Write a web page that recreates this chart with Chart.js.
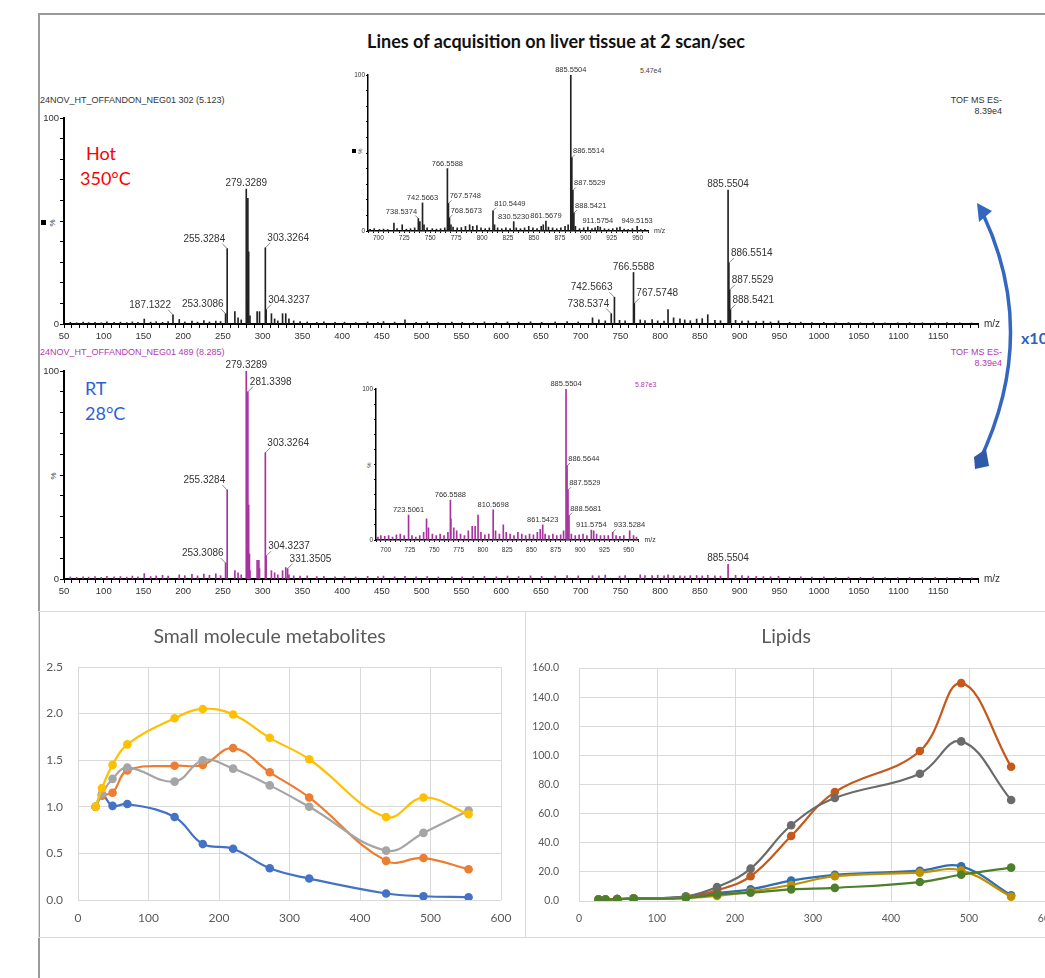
<!DOCTYPE html>
<html>
<head>
<meta charset="utf-8">
<title>Lines of acquisition on liver tissue at 2 scan/sec</title>
<script src="https://cdn.jsdelivr.net/npm/chart.js@4.4.1/dist/chart.umd.min.js"></script>
<style>
  html, body { margin: 0; padding: 0; background: #fff; }
  body { width: 1045px; height: 978px; overflow: hidden; position: relative;
         font-family: "Liberation Sans", Arial, sans-serif; }
  .abs { position: absolute; white-space: nowrap; line-height: 1; }
  canvas { position: absolute; }
  .hdr { font-size: 9px; color: #333; }
  .mag { color: #b23bb2; }
  .temp { font-family: Lato, sans-serif; font-size: 18px; line-height: 18px; }
  .pct { font-size: 8px; color: #333; transform: rotate(-90deg); }
  .box { border: 1px solid #d9d9d9; }
</style>
</head>
<body>

<!-- moldura externa -->
<div class="abs" style="left:38px;top:13px;width:1020px;height:980px;border-left:2px solid #9a9a9a;border-top:2px solid #9a9a9a"></div>

<div class="abs" style="left:156px;top:30px;width:800px;text-align:center;font:bold 18px Lato, sans-serif;color:#111">Lines of acquisition on liver tissue at 2 scan/sec</div>

<!-- cabecalhos dos espectros -->
<div class="abs hdr" style="left:40px;top:96px">24NOV_HT_OFFANDON_NEG01 302 (5.123)</div>
<div class="abs hdr" style="right:43px;top:96px;text-align:right">TOF MS ES-<br><span style="line-height:13px">8.39e4</span></div>
<div class="abs hdr mag" style="left:40px;top:348px">24NOV_HT_OFFANDON_NEG01 489 (8.285)</div>
<div class="abs hdr mag" style="right:43px;top:348px;text-align:right">TOF MS ES-<br><span style="line-height:13px">8.39e4</span></div>

<div class="abs temp" style="left:86px;top:144px;color:#f00">Hot</div>
<div class="abs temp" style="left:80px;top:169px;color:#f00">350°C</div>
<div class="abs temp" style="left:85px;top:379px;color:#2e5fd8">RT</div>
<div class="abs temp" style="left:85px;top:404px;color:#2e5fd8">28°C</div>

<!-- rotulos de % nos eixos -->
<div class="abs" style="left:41px;top:220px;width:5px;height:5px;background:#000"></div>
<div class="abs pct" style="left:49px;top:219px">%</div>
<div class="abs pct" style="left:50px;top:472px">%</div>
<div class="abs" style="left:352px;top:149px;width:4px;height:4px;background:#000"></div>
<div class="abs pct" style="left:357px;top:148px;font-size:6px">%</div>
<div class="abs pct" style="left:366px;top:462px;font-size:6px">%</div>
<div class="abs" style="left:640px;top:67px;font-size:7px;color:#444">5.47e4</div>
<div class="abs mag" style="left:635px;top:381px;font-size:7px">5.87e3</div>

<!-- seta x10 -->
<svg class="abs" style="left:0;top:0" width="1045" height="978">
  <path d="M983 214 Q1040 335 979 462" stroke="#3567c0" stroke-width="3.5" fill="none"/>
  <polygon points="977,203 992,211 979,222" fill="#3567c0"/>
  <polygon points="974,457 986,449 989,466 975,469" fill="#2f5aa8"/>
</svg>
<div class="abs" style="left:1021px;top:328px;font:bold 16px Lato, sans-serif;color:#2f5fc0">x10</div>

<!-- caixas dos graficos Excel -->
<div class="abs box" style="left:38px;top:611px;width:486px;height:325px"></div>
<div class="abs box" style="left:525px;top:611px;width:540px;height:325px"></div>

<canvas id="hot-main" width="1010" height="242" style="left:14px;top:100px"></canvas>
<canvas id="rt-main" width="1010" height="242" style="left:14px;top:355px"></canvas>
<canvas id="hot-inset" width="330" height="183" style="left:340px;top:62px"></canvas>
<canvas id="rt-inset" width="320" height="179" style="left:347px;top:375px"></canvas>
<canvas id="small-mol" width="487" height="326" style="left:38px;top:611px"></canvas>
<canvas id="lipids" width="546" height="326" style="left:525px;top:611px"></canvas>

<script>
/* global Chart */
// ---- Espectro principal (Hot 350C / RT 28C): picos maiores, em % ----
const HOT_MZ  = [187.1322, 253.3086, 255.3284, 279.3289, 280.33, 281.34, 282.34, 303.3264, 304.3237,
                 738.5374, 742.5663, 766.5588, 767.5748, 885.5504, 886.5514, 887.5529, 888.5421];
const HOT_PCT = [4.5, 5, 36.6, 65.5, 11, 61, 35, 37, 7,
                 5, 13, 25, 10, 65, 29.6, 16.5, 7];
const HOT_TAGS = [187.1322, 253.3086, 255.3284, 279.3289, 303.3264, 304.3237,
                  738.5374, 742.5663, 766.5588, 767.5748, 885.5504, 886.5514, 887.5529, 888.5421];
const HOT_TAG_SIDES = ['r', 'r', 'r', 'c', 'l', 'l', 'r', 'r', 'c', 'l', 'c', 'l', 'l', 'l'];

const RT_MZ  = [253.3086, 255.3284, 279.3289, 280.33, 281.3398, 282.34, 283.34, 295.2, 303.3264, 304.3237, 331.3505, 885.5504];
const RT_PCT = [7.7, 42.8, 100, 15, 90, 35.6, 12, 9, 60.7, 11, 5, 7];
const RT_TAGS = [253.3086, 255.3284, 279.3289, 281.3398, 303.3264, 304.3237, 331.3505, 885.5504];
const RT_TAG_SIDES = ['r', 'r', 'c', 'l', 'l', 'l', 'l', 'c'];

// picos pequenos (ruido), mesmas posicoes nos dois espectros
const MAIN_NOISE_MZ = [58, 66, 74, 81, 89, 97, 104, 113, 121, 129,
  136, 143, 151, 159, 166, 174, 181, 195, 202, 211,
  218, 226, 233, 241, 247, 265, 269, 273, 284, 293,
  296, 311, 315, 319, 325, 329, 333, 339, 347, 356,
  368, 377, 391, 403, 417, 432, 445, 452, 466, 479,
  493, 507, 521, 538, 551, 565, 579, 594, 608, 622,
  637, 651, 668, 683, 697, 715, 723, 731, 749, 756,
  775, 781, 790, 797, 805, 810, 817, 825, 831, 838,
  846, 853, 860, 869, 876, 895, 903, 911, 921, 930,
  939, 949, 963, 977, 991, 1006, 1021, 1037, 1052, 1068,
  1083, 1099, 1114, 1130, 1146, 1161, 1177, 1192];
const HOT_NOISE_PCT = [0.8, 0.6, 0.9, 0.7, 0.8, 0.6, 1.0, 0.8, 0.9, 0.7,
  1.0, 0.8, 2.4, 0.9, 1.1, 0.8, 1.2, 2.2, 1.0, 1.4,
  0.9, 1.6, 1.0, 1.4, 1.2, 6.0, 3.0, 2.0, 4.0, 6.0,
  6.0, 5.0, 2.5, 1.5, 5.0, 5.0, 2.5, 1.5, 1.2, 1.0,
  0.8, 1.0, 0.8, 0.9, 0.7, 1.0, 0.8, 1.2, 0.9, 2.0,
  0.8, 1.0, 0.7, 0.9, 0.8, 0.7, 1.0, 0.8, 1.0, 0.9,
  1.1, 0.8, 1.0, 1.2, 1.0, 3.0, 2.0, 1.5, 1.8, 1.5,
  2.0, 1.6, 2.2, 1.5, 1.4, 7.0, 3.0, 2.5, 2.0, 1.6,
  2.4, 2.6, 4.5, 1.8, 1.6, 1.8, 1.4, 1.5, 1.2, 1.4,
  1.0, 1.5, 0.8, 0.9, 0.7, 0.8, 0.6, 0.7, 0.6, 0.7,
  0.6, 0.6, 0.7, 0.6, 0.6, 0.7, 0.6, 0.5];
const RT_NOISE_PCT = [1.0, 0.8, 1.1, 0.9, 1.2, 0.8, 1.3, 1.0, 1.2, 0.9,
  1.4, 1.1, 2.6, 1.2, 1.5, 1.8, 1.4, 2.0, 1.6, 2.2,
  1.5, 2.4, 1.8, 2.5, 1.6, 4.0, 3.0, 2.0, 4.0, 9.0,
  5.0, 4.0, 3.0, 2.0, 4.0, 5.5, 2.0, 1.5, 1.4, 1.5,
  1.2, 1.3, 1.1, 1.2, 1.0, 1.3, 1.2, 1.4, 1.1, 1.3,
  1.0, 1.2, 1.0, 1.1, 1.0, 1.2, 1.3, 1.1, 1.4, 1.2,
  1.5, 1.3, 1.4, 1.6, 1.5, 1.6, 1.5, 1.9, 1.4, 1.6,
  2.0, 1.7, 1.6, 1.8, 1.5, 2.0, 1.6, 1.5, 1.4, 1.6,
  1.7, 1.5, 1.8, 1.5, 1.4, 1.8, 1.6, 1.4, 1.3, 1.2,
  1.1, 1.3, 1.0, 1.1, 0.9, 1.0, 0.8, 0.9, 0.8, 0.9,
  0.8, 0.7, 0.8, 0.7, 0.8, 0.7, 0.8, 0.6];

// ---- Insets (zoom 690-960 m/z) ----
const HOT_IN_MZ  = [738.5374, 742.5663, 766.5588, 767.5748, 768.5673, 810.5449, 830.5230, 861.5679,
                    885.5504, 886.5514, 887.5529, 888.5421, 911.5754, 949.5153];
const HOT_IN_PCT = [8, 18, 40, 17.7, 8.5, 13, 6, 6.4, 100, 47, 26, 11.5, 3, 3];
const HOT_IN_SIDES = ['r', 'c', 'c', 'l', 'l', 'l', 'c', 'c', 'c', 'l', 'l', 'l', 'c', 'c'];
const HOT_IN_NOISE_MZ = [692, 696, 701, 705, 709, 715, 718, 723, 727, 731, 735, 740, 744, 747, 752, 756, 760, 764,
  770, 772, 776, 780, 784, 788, 791, 795, 799, 803, 807, 812, 815, 819, 823, 827, 833, 837, 841, 845, 849,
  853, 857, 859, 864, 868, 872, 876, 880, 883, 890, 894, 898, 902, 906, 909, 914, 918, 922, 926, 930,
  933, 937, 941, 945, 953, 957];
const HOT_IN_NOISE_PCT = [1, 1.5, 1, 1.2, 1, 5, 1.5, 4, 1.2, 1.5, 2, 6, 4, 2, 1.5, 1.2, 1.5, 2,
  4, 2.5, 2, 2.2, 3, 4, 3, 3.5, 2, 1.5, 2, 4, 2, 1.5, 2, 1.5, 2, 1.5, 2, 3, 2,
  1.5, 3, 4, 2.5, 2, 1.5, 2, 3, 4, 3, 1.5, 2, 2.5, 1.5, 2, 2.5, 1.5, 1.2, 1.5, 2,
  2.5, 1.2, 1, 1.5, 1, 1];

const RT_IN_MZ  = [723.5061, 766.5588, 810.5698, 861.5423, 885.5504, 886.5644, 887.5529, 888.5681, 911.5754, 933.5284];
const RT_IN_PCT = [16.5, 26.5, 20, 10, 100, 49, 33, 16, 6.6, 5];
const RT_IN_SIDES = ['c', 'c', 'c', 'c', 'c', 'l', 'l', 'l', 'c', 'l'];
const RT_IN_NOISE_MZ = [692, 695, 699, 703, 707, 711, 715, 719, 727, 731, 735, 739, 742, 744, 748, 752, 756, 760,
  764, 767, 770, 773, 777, 781, 785, 789, 792, 795, 798, 802, 806, 813, 817, 821, 824, 828, 832, 836, 840,
  844, 848, 852, 856, 859, 864, 868, 872, 876, 880, 883, 891, 895, 899, 903, 907, 914, 917, 921, 925, 929,
  937, 941, 945, 951, 955, 958];
const RT_IN_NOISE_PCT = [2, 3, 2.5, 3, 2, 3.5, 4, 3, 3, 2, 3, 5, 14, 8, 4, 3, 4, 3,
  5, 14, 8, 6, 4, 3, 6, 9, 9, 16.5, 5, 3.5, 4, 6, 4, 10, 5, 4, 3, 5, 4,
  3, 4, 3.5, 5, 7, 4, 3, 4, 3, 3.5, 6, 4, 3, 3.5, 4, 3, 6, 4, 3, 3, 3,
  3, 2.5, 3, 6, 3, 2];

// ---- Graficos Excel de baixo ----
const TIME_X    = [25, 34, 49, 70, 137, 177, 220, 272, 328, 437, 490, 554];
const SM_BLUE   = [1.00, 1.13, 1.01, 1.03, 0.89, 0.60, 0.55, 0.34, 0.23, 0.07, 0.04, 0.03];
const SM_ORANGE = [1.00, 1.12, 1.15, 1.39, 1.44, 1.45, 1.63, 1.37, 1.10, 0.42, 0.45, 0.33];
const SM_GRAY   = [1.00, 1.14, 1.30, 1.42, 1.27, 1.50, 1.41, 1.23, 1.00, 0.53, 0.72, 0.96];
const SM_YELLOW = [1.00, 1.20, 1.45, 1.67, 1.95, 2.05, 1.99, 1.74, 1.51, 0.89, 1.10, 0.92];

const LIP_BLUE   = [1.0, 1.0, 1.3, 1.8, 2.5, 5.5, 8.0, 14.0, 18.0, 20.8, 23.8, 4.0];
const LIP_ORANGE = [1.0, 1.0, 1.3, 1.6, 2.7, 7.3, 17.0, 44.6, 74.8, 103.0, 149.6, 92.2];
const LIP_GRAY   = [1.0, 1.0, 1.3, 1.8, 3.2, 9.6, 22.2, 52.0, 70.7, 87.4, 109.6, 69.4];
const LIP_GOLD   = [1.0, 1.0, 1.2, 1.6, 2.2, 3.5, 6.5, 11.0, 17.0, 19.5, 21.0, 3.0];
const LIP_GREEN  = [1.0, 1.0, 1.3, 1.6, 2.0, 4.5, 5.7, 8.0, 9.0, 13.0, 18.0, 22.9];

// rotulos dos picos + "m/z" no fim do eixo
function tagPlugin(cfg) {
  return {
    id: 'peakTags',
    afterDatasetsDraw(chart) {
      const { ctx, chartArea, scales: { x, y } } = chart;
      ctx.save();
      ctx.font = cfg.tagFont;
      ctx.fillStyle = '#333';
      ctx.strokeStyle = '#555';
      ctx.lineWidth = 0.7;
      ctx.textBaseline = 'alphabetic';
      cfg.tags.forEach((m, i) => {
        const k = cfg.mz.indexOf(m);
        if (k < 0) return;
        const px = x.getPixelForValue(m);
        const py = y.getPixelForValue(cfg.pct[k]);
        const side = cfg.sides[i];
        if (side === 'c') {
          ctx.textAlign = 'center';
          ctx.fillText(m.toFixed(4), px, py - 3);
        } else {
          const d = side === 'l' ? 1 : -1;
          ctx.beginPath();
          ctx.moveTo(px, py);
          ctx.lineTo(px + d * cfg.lead, py - cfg.lead);
          ctx.stroke();
          ctx.textAlign = side === 'l' ? 'left' : 'right';
          ctx.fillText(m.toFixed(4), px + d * cfg.lead * 0.4, py - cfg.lead - 2);
        }
      });
      ctx.font = cfg.unitFont;
      ctx.textAlign = 'left';
      ctx.textBaseline = 'middle';
      ctx.fillText('m/z', chartArea.right + 6, chartArea.bottom);
      ctx.restore();
    }
  };
}

function spectrum(id, cfg) {
  const pts = cfg.mz.map((m, i) => ({ x: m, y: cfg.pct[i] }))
    .concat(cfg.noiseMz.map((m, i) => ({ x: m, y: cfg.noisePct[i] })))
    .sort((a, b) => a.x - b.x);
  return new Chart(document.getElementById(id), {
    type: 'bar',
    data: { datasets: [{ data: pts, backgroundColor: cfg.color, barThickness: 1, borderWidth: 0 }] },
    options: {
      responsive: false, animation: false, events: [],
      layout: { padding: { top: cfg.padTop, right: cfg.padRight, left: 0, bottom: 0 } },
      plugins: { legend: { display: false }, tooltip: { enabled: false } },
      scales: {
        x: {
          type: 'linear', min: cfg.xMin, max: cfg.xMax, offset: false,
          afterFit: s => { s.height = cfg.xH; },
          border: { color: '#000', width: cfg.axisW },
          grid: { drawOnChartArea: false, offset: false, color: '#000', tickLength: cfg.tick },
          ticks: {
            stepSize: cfg.minor, autoSkip: false, maxRotation: 0, padding: cfg.tickPad,
            color: '#333', font: { family: 'Liberation Sans', size: cfg.tickSize },
            callback: v => (v % cfg.major === 0 && v >= cfg.firstLabel && v <= cfg.lastLabel) ? v : ''
          }
        },
        y: {
          min: 0, max: 100,
          afterFit: s => { s.width = cfg.yW; },
          border: { color: '#000', width: cfg.axisW },
          grid: { drawOnChartArea: false, color: '#000', tickLength: cfg.tick },
          ticks: {
            stepSize: 10, autoSkip: false, padding: 1,
            color: '#333', font: { family: 'Liberation Sans', size: cfg.tickSize },
            callback: v => (v === 0 || v === 100) ? v : ''
          }
        }
      }
    },
    plugins: [tagPlugin({ mz: cfg.mz, pct: cfg.pct, tags: cfg.tags, sides: cfg.sides,
      tagFont: cfg.tagFont, unitFont: cfg.unitFont, lead: cfg.lead })]
  });
}

const MAIN = { xMin: 50, xMax: 1200, minor: 10, major: 50, firstLabel: 50, lastLabel: 1150,
  xH: 18, yW: 50, padRight: 46, tick: 4, tickPad: 3, tickSize: 9.5, axisW: 2,
  tagFont: '10px "Liberation Sans"', unitFont: '10px "Liberation Sans"', lead: 5 };
const INSET = { xMin: 690, xMax: 960, minor: 5, major: 25, firstLabel: 700, lastLabel: 950,
  xH: 14, tick: 2, tickPad: 1, tickSize: 6.5, axisW: 1.5,
  tagFont: '7.5px "Liberation Sans"', unitFont: '7px "Liberation Sans"', lead: 3 };

spectrum('hot-main', Object.assign({}, MAIN, {
  mz: HOT_MZ, pct: HOT_PCT, noiseMz: MAIN_NOISE_MZ, noisePct: HOT_NOISE_PCT,
  tags: HOT_TAGS, sides: HOT_TAG_SIDES, color: '#222', padTop: 18 }));
spectrum('rt-main', Object.assign({}, MAIN, {
  mz: RT_MZ, pct: RT_PCT, noiseMz: MAIN_NOISE_MZ, noisePct: RT_NOISE_PCT,
  tags: RT_TAGS, sides: RT_TAG_SIDES, color: '#a8329f', padTop: 16 }));
spectrum('hot-inset', Object.assign({}, INSET, {
  mz: HOT_IN_MZ, pct: HOT_IN_PCT, noiseMz: HOT_IN_NOISE_MZ, noisePct: HOT_IN_NOISE_PCT,
  tags: HOT_IN_MZ, sides: HOT_IN_SIDES, color: '#222', yW: 28, padTop: 13, padRight: 22 }));
spectrum('rt-inset', Object.assign({}, INSET, {
  mz: RT_IN_MZ, pct: RT_IN_PCT, noiseMz: RT_IN_NOISE_MZ, noisePct: RT_IN_NOISE_PCT,
  tags: RT_IN_MZ, sides: RT_IN_SIDES, color: '#a8329f', yW: 29, padTop: 14, padRight: 28.6, tickPad: 4 }));

function excelChart(id, cfg) {
  const n = cfg.series.length;
  const datasets = cfg.series.map((s, i) => ({
    data: TIME_X.map((xv, j) => ({ x: xv, y: s[j] })),
    borderColor: cfg.colors[i], backgroundColor: cfg.colors[i],
    borderWidth: 2.2, pointRadius: 4.3, pointBorderWidth: 0, tension: 0.4, fill: false,
    order: n - 1 - i
  }));
  const tickFont = { family: 'Lato', size: cfg.fontSize };
  return new Chart(document.getElementById(id), {
    type: 'line',
    data: { datasets },
    options: {
      responsive: false, animation: false, events: [],
      layout: { padding: { top: 0, right: 24, left: 0, bottom: 0 } },
      plugins: {
        legend: { display: false }, tooltip: { enabled: false },
        title: { display: true, text: cfg.title, color: '#595959',
                 font: { family: 'Lato', size: 19.5, weight: 'normal' },
                 padding: { top: 14.3, bottom: cfg.titleBottom } }
      },
      scales: {
        x: {
          type: 'linear', min: 0, max: 600,
          afterFit: s => { s.height = cfg.xH; },
          border: { display: false },
          grid: { color: '#d9d9d9', drawTicks: false },
          ticks: { stepSize: 100, padding: 11, color: '#595959', font: tickFont, maxRotation: 0 }
        },
        y: {
          min: 0, max: cfg.yMax,
          afterFit: s => { s.width = cfg.yW; },
          border: { display: false },
          grid: { color: '#d9d9d9', drawTicks: false },
          ticks: { stepSize: cfg.yStep, padding: cfg.yPad, color: '#595959', font: tickFont,
                   callback: v => v.toFixed(1) }
        }
      }
    }
  });
}

excelChart('small-mol', {
  title: 'Small molecule metabolites', titleBottom: 18.3, xH: 37, yW: 40, yPad: 15, fontSize: 12,
  yMax: 2.5, yStep: 0.5,
  series: [SM_BLUE, SM_ORANGE, SM_GRAY, SM_YELLOW],
  colors: ['#4472c4', '#ed7d31', '#a5a5a5', '#ffc000']
});
excelChart('lipids', {
  title: 'Lipids', titleBottom: 19.3, xH: 36, yW: 54, yPad: 20, fontSize: 10.5,
  yMax: 160, yStep: 20,
  series: [LIP_BLUE, LIP_ORANGE, LIP_GRAY, LIP_GOLD, LIP_GREEN],
  colors: ['#2f6eb5', '#c4591b', '#6b6b6b', '#bf9000', '#4d7f2c']
});
</script>
</body>
</html>
